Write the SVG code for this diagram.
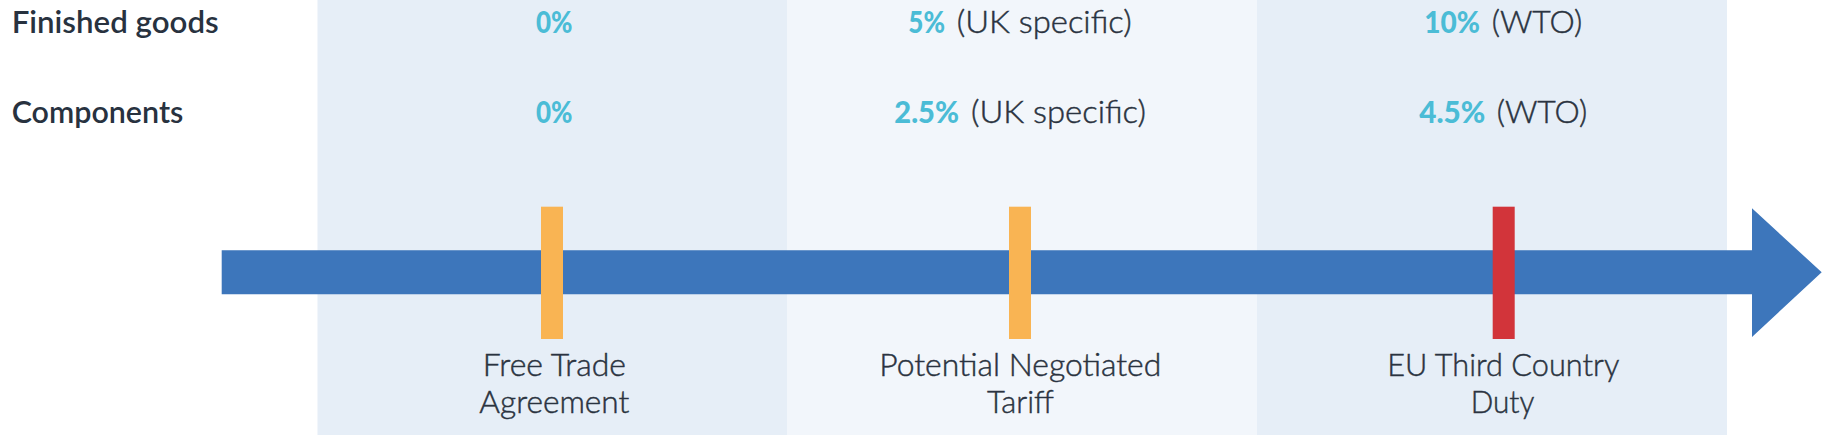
<svg xmlns="http://www.w3.org/2000/svg" width="1836" height="435" viewBox="0 0 1836 435">
  <style>
    .bgA { fill: #E6EEF7; }
    .bgB { fill: #F2F6FB; }
    .row { font-family: Lato, "Liberation Sans", sans-serif; font-weight: 600; font-size: 30px; fill: #28323F; }
    .pct { font-family: Lato, "Liberation Sans", sans-serif; font-weight: 900; font-size: 31px; fill: #4BBCD6; }
    .note { font-family: Lato, "Liberation Sans", sans-serif; font-weight: 300; font-size: 31px; fill: #2A3340; stroke: #2A3340; stroke-width: 0.45px; }
    .lbl { font-family: Lato, "Liberation Sans", sans-serif; font-weight: 300; font-size: 31px; fill: #2A3340; stroke: #2A3340; stroke-width: 0.45px; }
    .amber { fill: #F9B453; }
    .red { fill: #D2343A; }
    .shaft { fill: #3D76BB; }
  </style>
  <rect width="1836" height="435" fill="#FFFFFF"/>
  <g id="backgrounds">
    <rect class="bgA" x="317.5" y="0" width="469.5" height="435"/>
    <rect class="bgB" x="787" y="0" width="470" height="435"/>
    <rect class="bgA" x="1257" y="0" width="470" height="435"/>
  </g>
  <g id="row-labels">
    <text class="row" x="11.7" y="33.3" textLength="207" lengthAdjust="spacingAndGlyphs">Finished goods</text>
    <text class="row" x="11.7" y="122.7" textLength="171.6" lengthAdjust="spacingAndGlyphs">Components</text>
  </g>
  <g id="connectors">
    <path id="timeline" class="shaft" d="M221.7,250.3 H1752 V208.3 L1821.7,272.3 L1752,337 V294.3 H221.7 Z"/>
  </g>
  <g id="node-fta">
    <text class="pct" x="536" y="33.3" textLength="36.5" lengthAdjust="spacingAndGlyphs">0%</text>
    <text class="pct" x="536" y="122.7" textLength="36.5" lengthAdjust="spacingAndGlyphs">0%</text>
    <rect class="amber" x="541" y="206.7" width="22" height="132.3"/>
    <text class="lbl" x="482.7" y="375.7" textLength="143.3" lengthAdjust="spacingAndGlyphs">Free Trade</text>
    <text class="lbl" x="479.3" y="412.7" textLength="150" lengthAdjust="spacingAndGlyphs">Agreement</text>
  </g>
  <g id="node-negotiated">
    <text y="33.3"><tspan class="pct" x="908.3" textLength="36.7" lengthAdjust="spacingAndGlyphs">5%</tspan><tspan class="note" x="956.7" textLength="175" lengthAdjust="spacingAndGlyphs">(UK specific)</tspan></text>
    <text y="122.7"><tspan class="pct" x="894.3" textLength="64.7" lengthAdjust="spacingAndGlyphs">2.5%</tspan><tspan class="note" x="971" textLength="175" lengthAdjust="spacingAndGlyphs">(UK specific)</tspan></text>
    <rect class="amber" x="1009" y="206.7" width="22" height="132.3"/>
    <text class="lbl" x="879.3" y="375.7" textLength="282" lengthAdjust="spacingAndGlyphs">Potential Negotiated</text>
    <text class="lbl" x="987" y="412.7" textLength="67" lengthAdjust="spacingAndGlyphs">Tariff</text>
  </g>
  <g id="node-wto">
    <text y="33.3"><tspan class="pct" x="1424.3" textLength="55.7" lengthAdjust="spacingAndGlyphs">10%</tspan><tspan class="note" x="1491.7" textLength="90.6" lengthAdjust="spacingAndGlyphs">(WTO)</tspan></text>
    <text y="122.7"><tspan class="pct" x="1419.3" textLength="66" lengthAdjust="spacingAndGlyphs">4.5%</tspan><tspan class="note" x="1496.7" textLength="90.6" lengthAdjust="spacingAndGlyphs">(WTO)</tspan></text>
    <rect class="red" x="1492.7" y="206.7" width="22" height="132.3"/>
    <text class="lbl" x="1387.3" y="375.7" textLength="232" lengthAdjust="spacingAndGlyphs">EU Third Country</text>
    <text class="lbl" x="1470.7" y="412.7" textLength="63.6" lengthAdjust="spacingAndGlyphs">Duty</text>
  </g>
</svg>
